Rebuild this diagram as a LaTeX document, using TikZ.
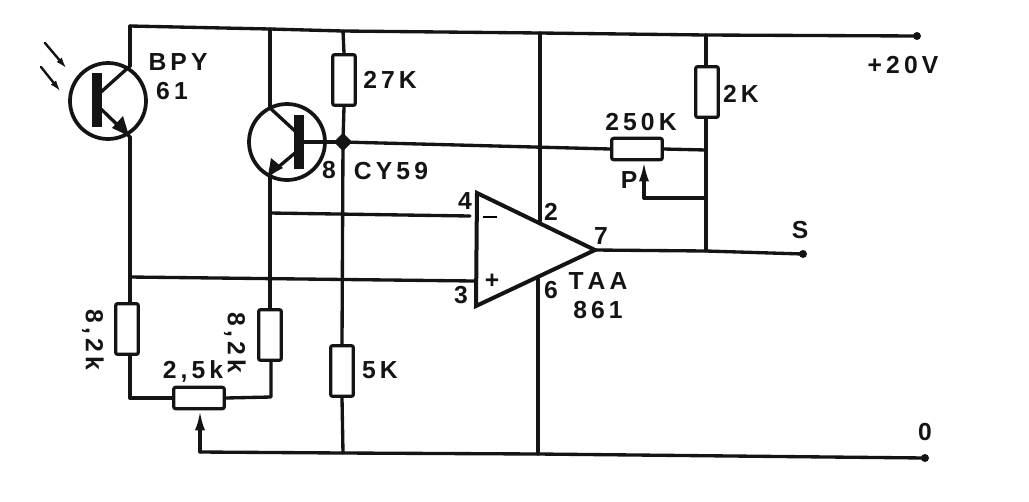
\documentclass[tikz,border=0pt]{standalone}
\usepackage{fontspec}
\setmainfont{Liberation Sans}
\usetikzlibrary{arrows.meta,shapes.geometric}
\begin{document}
\begin{tikzpicture}[x=0.75pt,y=-0.75pt,
  wire/.style={line width=2.5pt,line cap=round,line join=round,color=black!92},
  res/.style={draw=black!92,line width=2.4pt,rounded corners=1.5pt,fill=white,minimum width=17pt,minimum height=38pt,inner sep=0pt},
  pot/.style={draw=black!92,line width=2.4pt,rounded corners=1.5pt,fill=white,minimum width=38pt,minimum height=16pt,inner sep=0pt},
  tr/.style={draw=black!92,line width=2.8pt,circle,minimum size=57pt,inner sep=0pt},
  term/.style={circle,fill=black!92,minimum size=6pt,inner sep=0pt},
  junc/.style={diamond,fill=black!92,minimum size=1pt,inner sep=0pt},
  lab/.style={font=\bfseries\fontsize{18.5}{18.5}\selectfont,text=black!92,inner sep=0pt,anchor=center},
  tip/.style={-{Latex[length=15pt,width=7.5pt]}}]
\useasboundingbox (0,0) rectangle (1029,501);
% rails
\coordinate (tl) at (130,26);
\coordinate (t1) at (270,29);
\coordinate (t2) at (343,31);
\coordinate (t3) at (540,33);
\coordinate (t4) at (706,35);
\node[term] (plus) at (917,36) {};
\coordinate (b0) at (200,452);
\coordinate (b1) at (343,453);
\coordinate (b2) at (538,454);
\node[term] (zero) at (925,458) {};
\draw[wire] (tl)--(t1)--(t2)--(t3)--(t4)--(plus.center);
\draw[wire] (b0)--(b1)--(b2)--(zero.center);
% BPY
\node[tr] (q1) at (108,101) {};
\coordinate (q1c) at (130,66);
\coordinate (q1e) at (130,137);
\fill[black!92] (92,73) rectangle (102,127);
\draw[wire] (q1c)--(101,92);
\draw[wire] (101,109)--(q1e);
\fill[black!92] (129,136)--(112,128)--(123,116)--cycle;
\draw[wire] (tl)--(q1c);
\draw[wire,line width=1.8pt,-{Latex[length=9pt,width=5pt]}] (45,43)--(67,69);
\draw[wire,line width=1.8pt,-{Latex[length=9pt,width=5pt]}] (41,67)--(61,92);
% CY59
\node[tr] (q2) at (287,142) {};
\coordinate (q2c) at (270,108);
\coordinate (q2e) at (270,174);
\coordinate (q2b) at (299,142);
\fill[black!92] (294,115) rectangle (304,169);
\draw[wire] (q2c)--(295,131);
\draw[wire] (295,153)--(q2e);
\fill[black!92] (268,176)--(271,158)--(283,168)--cycle;
\draw[wire] (t1)--(q2c);
\node[junc,minimum size=14pt] (j1) at (343,142) {};
\draw[wire] (q2b)--(j1.center);
% left divider
\node[res] (r1) at (127,329) {};
\node[res] (r2) at (270,335) {};
\node[pot] (p1) at (199,398) {};
\coordinate (ll) at (130,398);
\coordinate (lr) at (271,397);
\coordinate (n3) at (130,277);
\coordinate (n4) at (270,213);
\draw[wire] (q1e)--(n3)--(r1.north-|n3);
\draw[wire] (r1.south-|ll)--(ll)--(p1.west);
\draw[wire] (p1.east)--(lr)--(r2.south-|lr);
\draw[wire] (q2e)--(n4)--(r2.north);
\draw[wire,tip] (b0)--(p1.south-|b0);
% centre column
\node[res] (r3) at (344,80) {};
\node[res] (r4) at (342,371) {};
\draw[wire] (t2)--(r3.north);
\draw[wire] (r3.south)--(j1.center)--(r4.north);
\draw[wire] (r4.south)--(b1);
% opamp
\coordinate (a1) at (477,193);
\coordinate (a2) at (476,306);
\coordinate (a3) at (595,250);
\coordinate (i1) at (470,216);
\coordinate (i2) at (474,281);
\coordinate (s2) at (540,221);
\coordinate (s6) at (538,279);
\draw[wire] (n4)--(i1);
\draw[wire] (n3)--(i2);
\draw[wire,line width=3pt,line join=miter] (a1)--(a3)--(a2)--cycle;
\draw[wire] (t3)--(s2);
\draw[wire] (s6)--(b2);
% right side
\node[pot] (p2) at (637,149) {};
\node[res] (r5) at (707,92) {};
\coordinate (rj) at (706,150);
\coordinate (rw) at (706,198);
\coordinate (rout) at (706,251);
\coordinate (pw) at (644,198);
\node[term] (sout) at (803,254) {};
\draw[wire] (j1.center)--(p2.west);
\draw[wire] (p2.east)--(rj);
\draw[wire] (t4)--(r5.north-|t4);
\draw[wire] (r5.south-|t4)--(rj)--(rw)--(rout);
\draw[wire] (rw)--(pw);
\draw[wire,tip] (pw)--(p2.south-|pw);
\draw[wire] (a3)--(rout)--(sout.center);
% labels
\node[lab] (l1) at (178,62) {B\,P\,Y};
\node[lab] (l2) at (172,91) {6\,1};
\node[lab] (l3) at (390,80) {2\,7\,K};
\node[lab] (l4) at (329,170) {8};
\node[lab] (l5) at (391,171) {C\,Y\,5\,9};
\node[lab] (l6) at (741,94) {2\,K};
\node[lab] (l7) at (903,65) {+\,2\,0\,V};
\node[lab] (l8) at (641,122) {2\,5\,0\,K};
\node[lab] (l9) at (629,180) {P};
\node[lab] (l10) at (465,201) {4};
\node[lab] (l11) at (551,212) {2};
\node[lab] (l12) at (601,236) {7};
\node[lab] (l13) at (461,295) {3};
\node[lab] (l14) at (551,290) {6};
\node[lab] (l15) at (598,281) {T\,A\,A};
\node[lab] (l16) at (598,310) {8\,6\,1};
\node[lab] (l17) at (800,230) {S};
\node[lab] (l18) at (925,432) {0};
\node[lab] (l19) at (380,370) {5\,K};
\node[lab] (l20) at (193,371) {2\,,\,5\,k};
\node[lab,rotate=-90] (l21) at (93,340) {8\,,\,2\,k};
\node[lab,rotate=-90] (l22) at (235,343) {8\,,\,2\,k};
\node[inner sep=0pt] (m1) at (490,217) {\rule{11pt}{1.8pt}};
\node[lab] (m2) at (492,281) {+};
\end{tikzpicture}
\end{document}
